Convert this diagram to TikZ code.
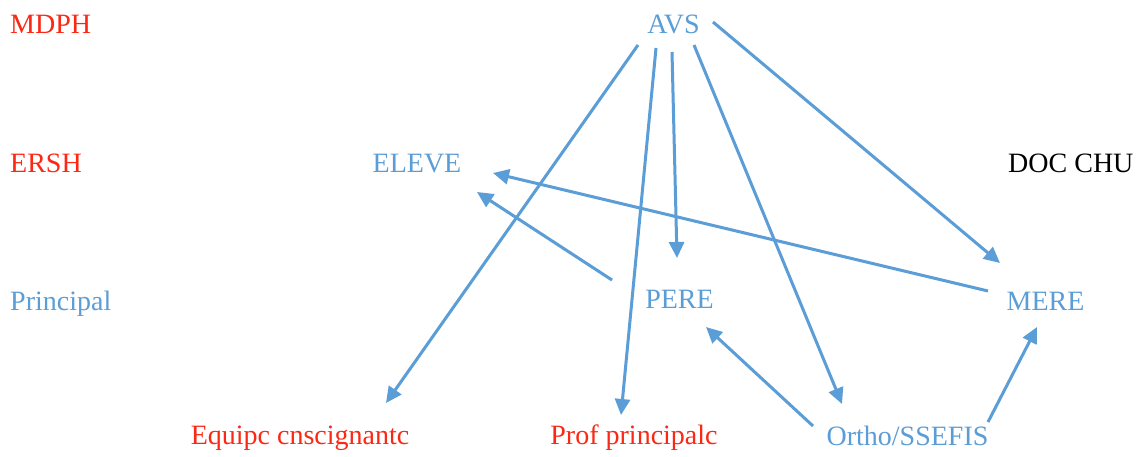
\documentclass[tikz,border=0pt]{standalone}
\usepackage{fontspec}
\setmainfont{Liberation Serif}
\usetikzlibrary{arrows.meta,calc}
\definecolor{lblue}{RGB}{91,157,214}
\definecolor{lred}{RGB}{250,40,20}
\begin{document}
\begin{tikzpicture}[x=1pt,y=-1pt,
  lbl/.style={inner sep=0pt,font=\fontsize{28}{32}\selectfont},
  bluelbl/.style={lbl,text=lblue},
  redlbl/.style={lbl,text=lred},
  conn/.style={draw=lblue,line width=3pt,-{Triangle[length=16pt,width=15pt]}}]
\useasboundingbox[fill=white] (0,0) rectangle (1142,456);
% labels
\node[redlbl,anchor=base west] (mdph) at (10,33) {MDPH};
\node[redlbl,anchor=base west] (ersh) at (10,172) {ERSH};
\node[bluelbl,anchor=base west] (principal) at (10,310) {Principal};
\node[bluelbl,anchor=base] (avs) at (673.5,33) {AVS};
\node[bluelbl,anchor=base] (eleve) at (417,172) {ELEVE};
\node[lbl,anchor=base west] (doc) at (1008,172) {DOC CHU};
\node[bluelbl,anchor=base] (pere) at (679.5,308) {PERE};
\node[bluelbl,anchor=base] (mere) at (1045.5,310) {MERE};
\node[redlbl,anchor=base] (equipe) at (300,444) {Equipc cnscignantc};
\node[redlbl,anchor=base] (prof) at (634,444) {Prof principalc};
\node[bluelbl,anchor=base] (ortho) at (907.5,445) {Ortho/SSEFIS};
% connectors
\draw[conn] ($(avs.base)+(-35.5,12)$) -- ($(equipe.base)+(86,-41)$);
\draw[conn] ($(avs.base)+(-17.5,15)$) -- ($(prof.base)+(-13,-29)$);
\draw[conn] ($(avs.base)+(-1.5,19)$) -- ($(pere.base)+(-2.5,-50)$);
\draw[conn] ($(avs.base)+(20.5,12)$) -- ($(ortho.base)+(-65.5,-41)$);
\draw[conn] ($(avs.base)+(39.5,-11)$) -- ($(mere.base)+(-45.5,-47)$);
\draw[conn] ($(mere.base)+(-57.5,-19)$) -- ($(eleve.base)+(76,1)$);
\draw[conn] ($(pere.base)+(-67.5,-28)$) -- ($(eleve.base)+(60,20)$);
\draw[conn] ($(ortho.base)+(-94.5,-19)$) -- ($(pere.base)+(26.5,19)$);
\draw[conn] ($(ortho.base)+(80.5,-23)$) -- ($(mere.base)+(-8.5,17)$);
\end{tikzpicture}
\end{document}
